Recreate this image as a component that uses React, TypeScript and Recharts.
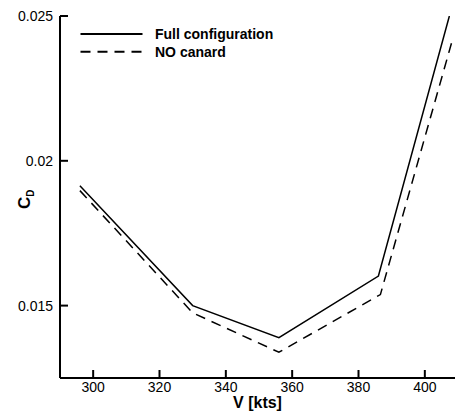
import React from "react";
import { LineChart, Line, XAxis, YAxis, Legend } from "recharts";

const FONT = "'Liberation Sans', Arial, Helvetica, sans-serif";
const INK = "#000";

// speeds [kts] and drag coefficients
const FULL_V = [296, 330, 356, 386, 407.4];
const FULL_CD = [0.01914, 0.015, 0.01389, 0.01602, 0.025];
const NOCAN_V = [296, 330, 356, 386.6, 408.2];
const NOCAN_CD = [0.01897, 0.01475, 0.01339, 0.01538, 0.02413];

const X_TICKS = [300, 320, 340, 360, 380, 400];
const Y_TICKS = [0.015, 0.02, 0.025];
const Y_TICK_LABELS: Record<number, string> = { 0.015: "0.015", 0.02: "0.02", 0.025: "0.025" };

const SERIES = [
  { name: "Full configuration", dash: undefined as string | undefined, data: FULL_V.map((v, i) => ({ v, cd: FULL_CD[i] })) },
  { name: "NO canard", dash: "10 7", data: NOCAN_V.map((v, i) => ({ v, cd: NOCAN_CD[i] })) },
];

function LegendBox() {
  return (
    <svg width={300} height={70} style={{ display: "block" }}>
      {SERIES.map((s, i) => {
        const y = 34 + i * 17.7;
        return (
          <g key={s.name}>
            <line x1={80.5} x2={142.5} y1={y} y2={y} stroke={INK} strokeWidth={2} strokeDasharray={s.dash} />
            <text x={155} y={y + 5} fontFamily={FONT} fontWeight="bold" fontSize={14} fill={INK}>
              {s.name}
            </text>
          </g>
        );
      })}
    </svg>
  );
}

function YLabel() {
  return (
    <text transform="translate(29.5, 209) rotate(-90)" fontFamily={FONT} fontWeight="bold" fontSize={17} fill={INK}>
      C
      <tspan dy={4} fontSize={10}>
        D
      </tspan>
    </text>
  );
}

function XLabel() {
  return (
    <text x={257.5} y={408} textAnchor="middle" fontFamily={FONT} fontWeight="bold" fontSize={16} fill={INK}>
      V [kts]
    </text>
  );
}

export default function App() {
  return (
    <div style={{ position: "absolute", left: 0, top: 0 }}>
      <LineChart
        width={455}
        height={412}
        margin={{ top: 16, right: -3, bottom: 0, left: 0 }}
        style={{ fontFamily: FONT }}
      >
        <XAxis
          type="number"
          dataKey="v"
          domain={[290, 410]}
          ticks={X_TICKS}
          allowDataOverflow
          height={34}
          axisLine={{ stroke: INK, strokeWidth: 2 }}
          tickLine={{ stroke: INK, strokeWidth: 2 }}
          tickSize={-8}
          tickMargin={12.5}
          tick={{ fill: INK, fontSize: 14 }}
          label={<XLabel />}
        />
        <YAxis
          type="number"
          dataKey="cd"
          domain={[0.0125, 0.025]}
          ticks={Y_TICKS}
          allowDataOverflow
          width={60}
          axisLine={{ stroke: INK, strokeWidth: 2 }}
          tickLine={{ stroke: INK, strokeWidth: 2 }}
          tickSize={-8}
          tickMargin={15}
          tick={{ fill: INK, fontSize: 14 }}
          tickFormatter={(v: number) => Y_TICK_LABELS[v] ?? String(v)}
          label={<YLabel />}
        />
        <Legend
          layout="horizontal"
          verticalAlign="middle"
          align="center"
          wrapperStyle={{ left: 0, top: 0, width: 300, height: 70 }}
          content={() => <LegendBox />}
        />
        {SERIES.map((s) => (
          <Line
            key={s.name}
            name={s.name}
            data={s.data}
            dataKey="cd"
            type="linear"
            stroke={INK}
            strokeWidth={1.5}
            strokeDasharray={s.dash}
            dot={false}
            activeDot={false}
            isAnimationActive={false}
          />
        ))}
      </LineChart>
    </div>
  );
}
